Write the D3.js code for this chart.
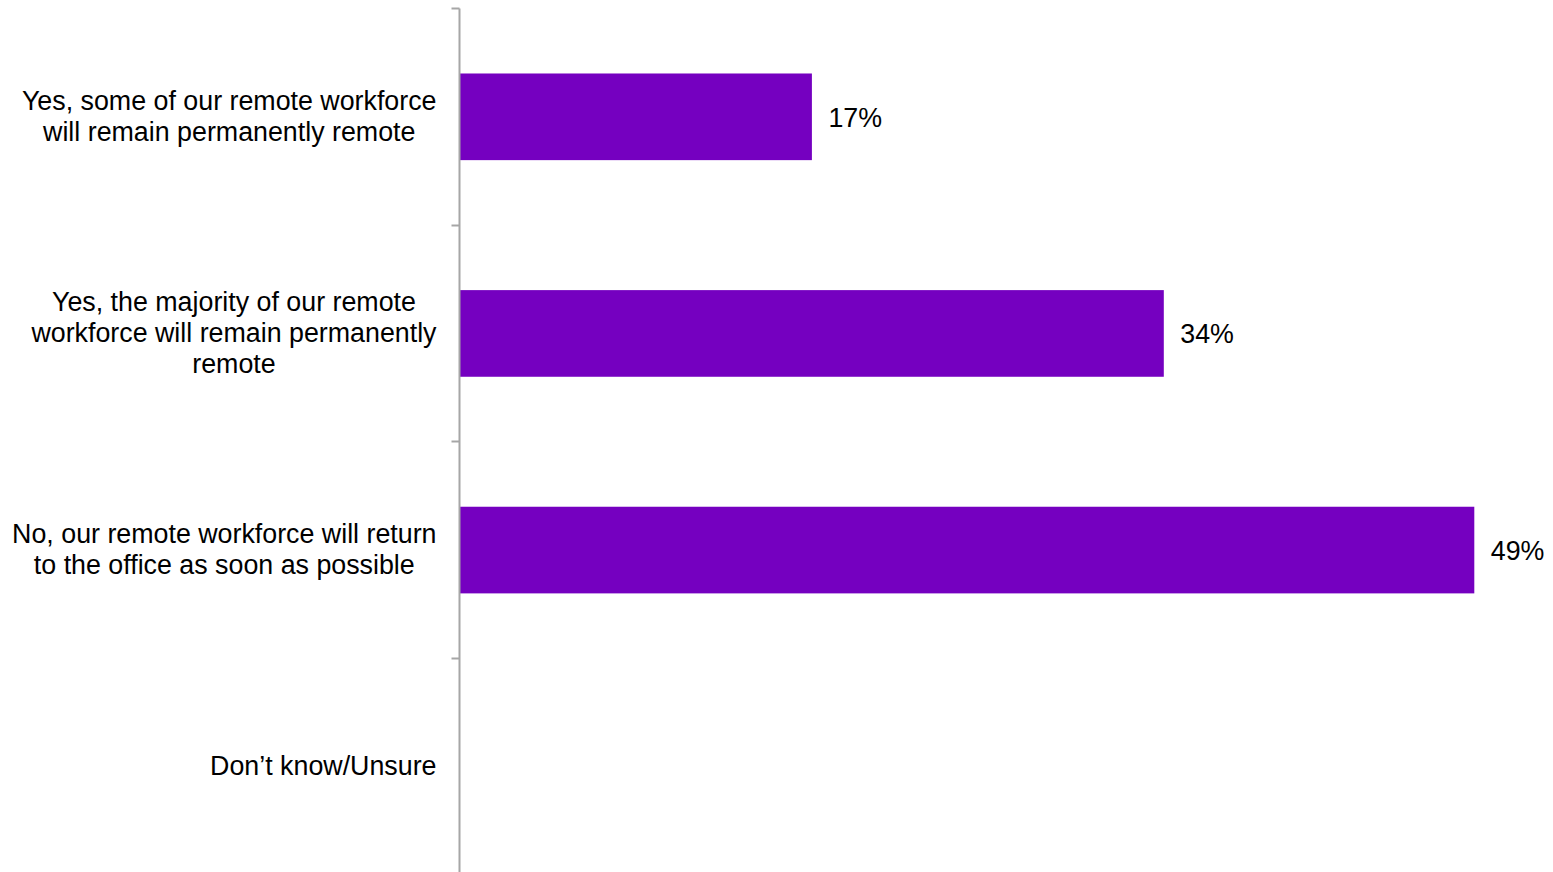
<!DOCTYPE html>
<html>
<head>
<meta charset="utf-8">
<script src="https://cdn.jsdelivr.net/npm/d3@7"></script>
<style>
  html, body { margin: 0; padding: 0; background: #fff; }
  svg { display: block; font-family: "Liberation Sans", Arial, sans-serif; }
</style>
</head>
<body>
<svg id="chart" width="1553" height="872"></svg>
<script>
// Survey answers (top to bottom), each split into its display lines
const categories = [
  "Yes, some of our remote workforce will remain permanently remote",
  "Yes, the majority of our remote workforce will remain permanently remote",
  "No, our remote workforce will return to the office as soon as possible",
  "Don\u2019t know/Unsure"
];
const categoryLines = [
  ["Yes, some of our remote workforce", "will remain permanently remote"],
  ["Yes, the majority of our remote", "workforce will remain permanently", "remote"],
  ["No, our remote workforce will return", "to the office as soon as possible"],
  ["Don\u2019t know/Unsure"]
];
// Share of respondents (%); no bar is shown for the last answer
const values = [17, 34, 49, null];
const valueLabels = ["17%", "34%", "49%", ""];

const svg = d3.select("#chart");
const margin = { top: 8.5, left: 459.5 };
const plotW = 1035, plotH = 866.5;
const fontSize = 26.8;

const x = d3.scaleLinear().domain([0, 50]).range([0, plotW]);
const y = d3.scaleBand().domain(categories).range([0, plotH]).paddingInner(0.6).paddingOuter(0.3);

const g = svg.append("g").attr("transform", `translate(${margin.left},${margin.top})`);

const rows = categories.map((c, i) => ({ c, v: values[i], label: valueLabels[i] })).filter(d => d.v != null);

// Bars
g.selectAll("rect.bar")
  .data(rows)
  .join("rect")
  .attr("class", "bar")
  .attr("x", 0.5)
  .attr("y", d => y(d.c))
  .attr("width", d => x(d.v))
  .attr("height", y.bandwidth())
  .attr("fill", "#7500c0");

// Value labels at the bar ends
g.selectAll("text.val")
  .data(rows)
  .join("text")
  .attr("class", "val")
  .attr("x", d => x(d.v) + 17)
  .attr("y", d => y(d.c) + y.bandwidth() / 2 + 0.5)
  .attr("dy", "0.35em")
  .attr("font-size", fontSize)
  .attr("fill", "#000")
  .text(d => d.label);

// Category axis: vertical line with tick marks between categories
const axisColor = "#a6a6a6";
g.append("line")
  .attr("x1", 0).attr("x2", 0)
  .attr("y1", 0).attr("y2", plotH)
  .attr("stroke", axisColor).attr("stroke-width", 2);
const step = y.step();
const tickYs = d3.range(categories.length + 1).map(i => Math.round(i * step));
g.selectAll("line.tick")
  .data(tickYs)
  .join("line")
  .attr("class", "tick")
  .attr("x1", -8).attr("x2", 0)
  .attr("y1", d => d).attr("y2", d => d)
  .attr("stroke", axisColor).attr("stroke-width", 2);

// Category labels: right-aligned block, each line centred within the block
const labelRight = -23;
const lineH = 31;
categories.forEach((c, i) => {
  const lines = categoryLines[i];
  const cy = y(c) + y.bandwidth() / 2 - 1;
  const t = g.append("text")
    .attr("font-size", fontSize)
    .attr("fill", "#000")
    .attr("text-anchor", "middle");
  const spans = lines.map((ln, j) => t.append("tspan")
    .attr("y", cy + (j - (lines.length - 1) / 2) * lineH)
    .attr("dy", "0.35em")
    .text(ln));
  const maxW = d3.max(spans, s => s.node().getComputedTextLength());
  spans.forEach(s => s.attr("x", labelRight - maxW / 2));
});
</script>
</body>
</html>
